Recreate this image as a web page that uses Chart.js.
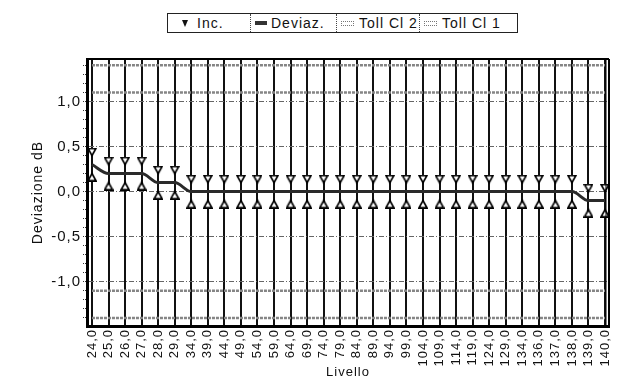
<!DOCTYPE html>
<html>
<head>
<meta charset="utf-8">
<script src="https://cdn.jsdelivr.net/npm/chart.js@4"></script>
<style>
  html, body { margin: 0; padding: 0; background: #fff; }
  #wrap { position: relative; width: 627px; height: 383px; }
  #legend { position: absolute; left: 167px; top: 13px; height: 20px; border: 1px solid #222; display: flex;
            font-family: "Liberation Sans", Arial, sans-serif; font-size: 14px; color: #111; background: #fff; box-sizing: border-box; }
  #legend .it { display: flex; align-items: center; box-sizing: border-box; padding-left: 8px; border-right: 1px dotted #444; letter-spacing: 1px; }
  #legend .it:last-child { border-right: none; }
  .sym-tri { width: 0; height: 0; border-left: 3px solid transparent; border-right: 3px solid transparent; border-top: 7px solid #111; margin: 0 9px 0 6px; }
  .sym-dev { width: 12px; height: 4px; background: #333; margin-right: 4px; }
  .sym-tol { width: 11px; height: 3px; border: 1px dotted #777; margin-right: 5px; }
</style>
</head>
<body>
<div id="wrap">
  <canvas id="c" width="627" height="383"></canvas>
  <div id="legend">
    <div class="it" style="width:83px"><span class="sym-tri"></span>Inc.</div>
    <div class="it" style="width:86px;padding-left:4px"><span class="sym-dev"></span>Deviaz.</div>
    <div class="it" style="width:83px;padding-left:4px"><span class="sym-tol"></span>Toll Cl 2</div>
    <div class="it" style="width:97px;padding-left:4px"><span class="sym-tol"></span>Toll Cl 1</div>
  </div>
</div>
<script>
// ---- data ----
const levels = ['24,0','25,0','26,0','27,0','28,0','29,0','34,0','39,0','44,0','49,0','54,0','59,0','64,0','69,0','74,0','79,0','84,0','89,0','94,0','99,0','104,0','109,0','114,0','119,0','124,0','129,0','134,0','136,0','137,0','138,0','139,0','140,0'];
const deviaz = [0.3,0.2,0.2,0.2,0.1,0.1,0,0,0,0,0,0,0,0,0,0,0,0,0,0,0,0,0,0,0,0,0,0,0,0,-0.1,-0.1];
const incert = [0.1,0.1,0.1,0.1,0.1,0.1,0.1,0.1,0.1,0.1,0.1,0.1,0.1,0.1,0.1,0.1,0.1,0.1,0.1,0.1,0.1,0.1,0.1,0.1,0.1,0.1,0.1,0.1,0.1,0.1,0.1,0.1];
const tollCl1 = 1.1;
const tollCl2 = 1.4;
const yTickLabels = { '1.0':'1,0', '0.5':'0,5', '0.0':'0,0', '-0.5':'-0,5', '-1.0':'-1,0' };

// ---- marker images (triangle tip at the value) ----
function triImg(down) {
  const c = document.createElement('canvas');
  c.width = 10; c.height = 16;
  const g = c.getContext('2d');
  g.beginPath();
  if (down) { g.moveTo(1, 0.9); g.lineTo(9, 0.9); g.lineTo(5, 8); }
  else { g.moveTo(5, 8); g.lineTo(9, 15.1); g.lineTo(1, 15.1); }
  g.closePath();
  g.fillStyle = '#fff'; g.fill();
  g.lineWidth = 1.7; g.strokeStyle = '#000'; g.stroke();
  return c;
}
const downTri = triImg(true), upTri = triImg(false);

const pts = arr => arr.map((v, i) => ({ x: i, y: v }));
const upper = deviaz.map((d, i) => d + incert[i]);
const lower = deviaz.map((d, i) => d - incert[i]);
const tol = v => levels.map(() => v);

const font = { family: '"Liberation Sans", Arial, sans-serif' };

const spacingPlugin = {
  id: 'spacing',
  beforeDraw(chart) { chart.ctx.letterSpacing = '1px'; }
};

const framePlugin = {
  id: 'frame',
  afterDatasetsDraw(chart) {
    const { ctx, chartArea: a } = chart;
    ctx.save();
    ctx.strokeStyle = '#000';
    ctx.lineWidth = 2;
    ctx.beginPath();
    ctx.moveTo(a.left, a.top); ctx.lineTo(a.right, a.top);
    ctx.moveTo(a.right, a.top); ctx.lineTo(a.right, a.bottom);
    ctx.stroke();
    ctx.lineWidth = 1;
    ctx.beginPath();
    ctx.moveTo(a.right - 3, a.top); ctx.lineTo(a.right - 3, a.bottom);
    ctx.stroke();
    ctx.restore();
  }
};

const tolStyle = { borderColor: '#858585', borderWidth: 2.5, borderDash: [3, 1], pointRadius: 0, order: 5 };

new Chart(document.getElementById('c'), {
  type: 'line',
  data: {
    datasets: [
      { label: 'Toll Cl 2', data: pts(tol(tollCl2)), ...tolStyle },
      { label: 'Toll Cl 2 -', data: pts(tol(-tollCl2)), ...tolStyle },
      { label: 'Toll Cl 1', data: pts(tol(tollCl1)), ...tolStyle },
      { label: 'Toll Cl 1 -', data: pts(tol(-tollCl1)), ...tolStyle },
      { label: 'Deviaz.', data: pts(deviaz), borderColor: '#2a2a2a', borderWidth: 3, cubicInterpolationMode: 'monotone', pointRadius: 0, order: 3 },
      { label: 'Inc.', data: pts(upper), showLine: false, pointStyle: downTri, pointRadius: 5, order: 1 },
      { label: 'Inc. -', data: pts(lower), showLine: false, pointStyle: upTri, pointRadius: 5, order: 1 }
    ]
  },
  options: {
    responsive: false,
    animation: false,
    layout: { padding: { left: 0, top: 59, right: 18, bottom: 0 } },
    plugins: { legend: { display: false }, tooltip: { enabled: false } },
    scales: {
      x: {
        type: 'linear',
        min: -0.3, max: 31.24,
        afterBuildTicks: s => { s.ticks = levels.map((_, i) => ({ value: i })); },
        afterFit: s => { s.height = 57; },
        ticks: {
          autoSkip: false, minRotation: 90, maxRotation: 90, padding: 3,
          color: '#111', font: { ...font, size: 13 },
          callback: (v) => levels[v]
        },
        grid: { color: '#111', lineWidth: 2, drawTicks: false },
        border: { color: '#000', width: 3 },
        title: { display: true, text: 'Livello', color: '#111', font: { ...font, size: 13 }, padding: { top: 0, bottom: 3 } }
      },
      y: {
        min: -1.49, max: 1.47,
        afterBuildTicks: s => {
          const t = [];
          for (let k = -14; k <= 14; k++) t.push({ value: k / 10 });
          s.ticks = t;
        },
        afterFit: s => { s.width = 87; },
        ticks: {
          autoSkip: false, padding: 2, color: '#111', font: { ...font, size: 15 },
          callback: (v) => yTickLabels[(Math.round(v * 10) / 10).toFixed(1)] || ''
        },
        grid: {
          color: ctx => (Math.abs(Math.round(ctx.tick.value * 10) % 5) === 0) ? '#666' : 'rgba(0,0,0,0)',
          tickColor: '#333',
          lineWidth: 1,
          tickLength: 4,
          tickBorderDash: [1, 1]
        },
        border: { color: '#000', width: 3, dash: [5, 2, 1, 2] },
        title: { display: true, text: 'Deviazione dB', color: '#111', font: { ...font, size: 14 }, padding: { top: 30, bottom: 0 } }
      }
    }
  },
  plugins: [spacingPlugin, framePlugin]
});
</script>
</body>
</html>
